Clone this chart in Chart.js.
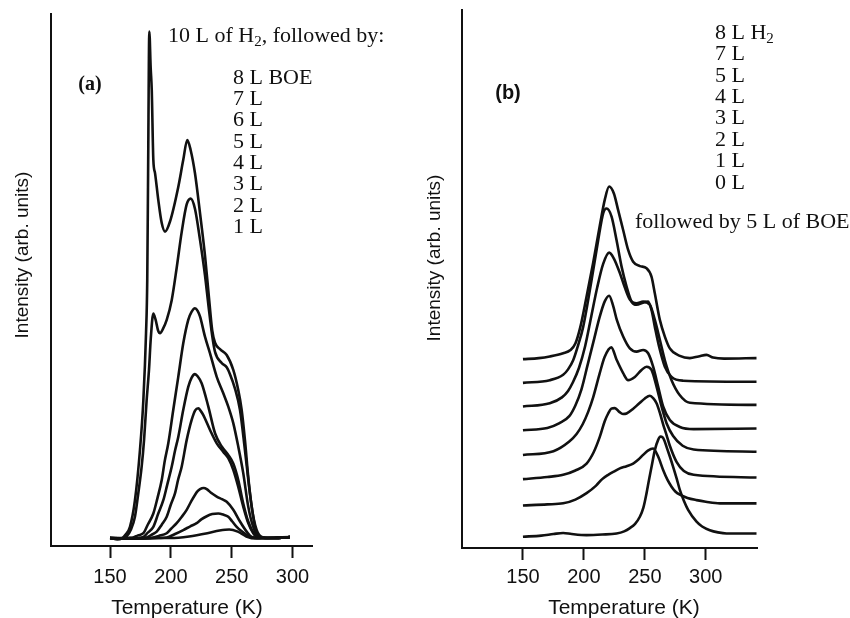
<!DOCTYPE html>
<html>
<head>
<meta charset="utf-8">
<title>H2 / BOE desorption spectra</title>
<script src="https://cdn.jsdelivr.net/npm/chart.js@4.4.0/dist/chart.umd.min.js"></script>
<style>
  html, body { margin: 0; padding: 0; background: #fff; }
  #wrap { position: relative; width: 850px; height: 618px; }
  canvas { position: absolute; top: 0; }
  #chartA { left: 0; }
  #chartB { left: 420px; }
</style>
</head>
<body>
<div id="wrap">
  <canvas id="chartA" width="420" height="618"></canvas>
  <canvas id="chartB" width="430" height="618"></canvas>
</div>
<script>
const tempTicks = [150, 200, 250, 300];

// (a) 10 L of H2, then increasing BOE doses. points are [T (K), intensity]
const dosesA = ['8 L BOE', '7 L', '6 L', '5 L', '4 L', '3 L', '2 L', '1 L'];
const a8 = [[150,1.5],[156,1.3],[160,1.5],[163,2.2],[166.4,3.6],[170.5,8.6],[174.6,18],[177.4,27.4],[179.6,40],[180.6,50],[181.3,70],[182.3,96.7],[183.4,90],[184.3,85.7],[185.6,72.6],[187,70.1],[189.7,65],[192.5,60.7],[195.2,59.1],[199.3,61],[206.1,67.5],[210.2,72.6],[213.5,76.3],[216.3,74.4],[219.8,70.1],[224,62.5],[228.1,54.5],[231,47.5],[234,40.5],[236.3,38.2],[240.4,37],[245.9,35.9],[251.3,33.1],[255.4,29.3],[258.2,25.6],[260.9,19.9],[263.6,13],[266.4,7.4],[270.5,3],[276,1.6],[285,1.5],[297.9,1.7]];
const a7 = [[150,1.5],[156,1.3],[160,1.4],[163.7,1.8],[167,3],[170.5,5.5],[173,9.5],[176,14.9],[178,20],[180.1,27.4],[182,33],[183.5,39],[185.6,43.7],[187.5,42.5],[189.5,40.5],[191.1,40],[193.5,40.8],[196.6,42.5],[200.7,46.2],[204.8,52.3],[208.9,59],[213,64.2],[216.3,65.3],[219.8,63.4],[224,57.5],[228.1,50.8],[231,45],[234,39.5],[236.3,36.5],[241.8,34.4],[245.9,33.6],[248.6,32.3],[252.7,29.6],[256.8,25.6],[260.9,18],[265,9.9],[269.2,3.6],[273.3,1.6],[285,1.5],[297.9,1.7]];
const a6 = [[150,1.5],[160,1.4],[165,1.5],[169.1,1.6],[173,2],[177.4,2.4],[181,4],[185.6,6.1],[189,9],[192.5,12.4],[195,16],[197.9,19.3],[202,25.6],[206.1,31.8],[210.2,38.1],[214.3,42.5],[217,44],[219.8,44.7],[222,44.2],[224,43.1],[228.1,39.3],[232.2,36.2],[237.7,31.8],[243.1,28.7],[247.2,26.2],[251.3,23.1],[255.4,18.7],[259.5,13.7],[263.6,7.4],[267.7,3.6],[273.3,1.6],[285,1.5],[297.9,1.7]];
const a5 = [[150,1.5],[165,1.4],[177.4,1.7],[181,2.5],[185.6,3.6],[189.5,6],[193.8,8.6],[197,11.5],[200.7,14.9],[203.5,18],[206.1,20.5],[210.2,25.6],[214.3,29.9],[217,31.6],[219.8,32.3],[222,31.9],[225.3,30.6],[230.8,26.2],[236.3,21.2],[241.8,18.7],[247.2,17.1],[251.3,15.5],[255.4,12.4],[259.5,8],[263.6,4.6],[269.2,2.1],[273.3,1.6],[285,1.5],[297.9,1.7]];
const a4 = [[150,1.5],[170,1.4],[180.1,1.6],[184,2.1],[188.4,2.7],[192.5,4],[196.6,5.5],[200,7.8],[203.4,9.9],[206,12.5],[208.9,14.9],[213,19.9],[217.1,23.7],[220,25.5],[222.6,25.9],[224.5,25.4],[226.7,24.6],[232.2,21.8],[237.7,19.3],[243.1,17.7],[247.2,16.5],[251.3,14.3],[255.4,11.1],[259.5,7.4],[263.6,4.3],[267.7,2.4],[271.9,1.6],[285,1.5],[297.9,1.7]];
const a3 = [[150,1.5],[175,1.4],[183,1.5],[190,1.9],[196.6,2.4],[200,3.2],[204.8,4.3],[209,5.5],[213,6.8],[216.5,8.3],[219.8,9.6],[222,10.3],[224,10.7],[227,10.9],[229.5,10.7],[233,10],[237.7,9.3],[242,8.8],[245.9,8.3],[251.3,6.8],[256.8,4.6],[262.3,2.7],[266.4,1.7],[272,1.5],[285,1.5],[297.9,1.7]];
const a2 = [[150,1.5],[180,1.4],[190,1.5],[196.6,1.6],[203,2.2],[210.2,3],[216,3.7],[221.2,4.3],[225,5],[229.5,5.6],[234,6],[239,6.1],[243,5.9],[247.2,5.5],[250.5,4.6],[254.1,3.6],[258,2.8],[262.3,2.1],[267.7,1.6],[275,1.5],[285,1.5],[297.9,1.7]];
const a1 = [[150,1.5],[200,1.5],[215,1.8],[230,2.4],[240,2.9],[248,3.1],[255,2.7],[262,1.8],[270,1.4],[280,1.5],[297.9,1.7]];

// (b) H2 dose first, followed by 5 L of BOE; traces are stacked
const dosesB = ['8 L H\u2082', '7 L', '5 L', '4 L', '3 L', '2 L', '1 L', '0 L'];
const b8 = [[150,35.1],[163,35.3],[172,35.6],[183,36.2],[189,36.8],[193,38],[197,41],[202,46.5],[207.6,53],[213.1,60],[217.2,64.8],[220.7,67.2],[224.6,65.9],[228.1,62.8],[232.2,59.1],[236.3,55.4],[240.4,53.2],[245.9,52.4],[251.4,52],[255.5,50.4],[258.2,47.3],[262.3,42.4],[266.4,39.3],[270.5,37.1],[278.7,35.7],[286.9,35.3],[294,35.6],[300.6,35.9],[306,35.4],[315,35.2],[341.6,35.3]];
const b7 = [[150,30.7],[172,31.2],[183,32.2],[187,33.2],[191.2,34.9],[195,37.5],[199.4,41.1],[206.3,49.8],[211.7,57.2],[215.8,62.2],[218.6,63.1],[222.7,61.6],[226.8,57.2],[230.9,52.3],[235,48.6],[239.1,45.8],[243.2,45.2],[248.6,45.6],[252.7,45.8],[255.5,44.2],[258.2,41.1],[261.7,37.4],[266.4,33.7],[271.9,31.8],[281.4,31.1],[341.6,30.9]];
const b5 = [[150,26.3],[172,26.9],[182,28],[187,29.2],[191,30.8],[196,33.5],[201,37.5],[206,43],[211,48.5],[215.8,52.8],[220.7,54.9],[224.6,53.8],[229.5,51.1],[233.6,48.4],[237.7,46.2],[243.2,45.5],[248.6,45.8],[254.1,45.2],[258.2,42.4],[262.3,38.7],[266.4,34.9],[271.9,31.2],[278.7,28.4],[286.9,27],[341.6,26.6]];
const b4 = [[150,21.9],[170,22.3],[180,23.2],[188,24.5],[193,26.5],[198,29.5],[203,34],[208,38.5],[213,43],[217,45.8],[220.7,46.9],[224,45],[227,42.4],[232.2,39.3],[237.7,37.1],[243.2,36.5],[248.6,36.8],[252.7,36.2],[256.8,33.7],[260.9,30],[265,26.3],[270.5,23.8],[278.7,22.5],[290,22.1],[341.6,22.2]];
const b3 = [[150,17.3],[175,18],[188,19.8],[194,21.2],[199,23],[203.5,25.3],[207.6,28],[213,32.5],[217,35.5],[222.5,37.3],[226.8,35],[232.2,32.5],[236.3,31.2],[241.8,31.8],[247.3,33.1],[251.4,33.7],[255.5,33.1],[259.6,30],[263.7,26.3],[267.8,23.2],[273.2,20.8],[281,19],[290,18.3],[341.6,17.9]];
const b2 = [[150,12.8],[170,13.2],[183,13.6],[193,14.4],[202.2,15.7],[208,17.8],[213.1,20.7],[217,23.5],[219.9,25],[222.5,25.9],[225.4,26],[229,25.3],[232,24.9],[235,25],[240,25.8],[245,26.8],[250,27.8],[254.1,28.3],[257,27.8],[259.6,26.9],[262.5,25],[265,23],[267.8,21],[270.5,19],[276,16],[282,14.3],[290,13.6],[341.6,13.1]];
const b1 = [[150,7.9],[170,8.1],[183,8.3],[193,9],[202.2,10.2],[210,11.6],[215,12.8],[219.9,13.6],[224.5,14.2],[229.5,14.8],[235,15.2],[240.4,15.7],[244.5,16.4],[248.6,17.3],[252.5,18.1],[256.8,18.5],[260.9,17],[265,14.5],[268.5,12.7],[271.9,11.4],[275,10.5],[278.7,9.9],[285,9.3],[292.4,8.9],[300,8.6],[311.5,8.3],[341.6,8.3]];
const b0 = [[150,2.1],[165,2.3],[175,2.6],[183,2.8],[190,2.6],[202.2,2.4],[215,2.5],[226.8,2.7],[233,3.1],[237.7,3.7],[242,4.5],[245.9,5.8],[248.8,7.5],[251.4,10.2],[253.5,12.8],[255.5,15.1],[258.2,18.2],[260.9,20.1],[262.8,20.7],[264.5,20.6],[266,20],[267.8,18.8],[270.5,17],[273.2,15.1],[276,13],[278.7,10.8],[282,8.8],[285.5,7.1],[292.4,4.9],[297,4],[303.3,3.3],[310,2.9],[317,2.7],[341.6,2.7]];

const INK = '#111';
const SERIF = '"Liberation Serif", "Times New Roman", serif';
const SANS = '"Liberation Sans", Arial, sans-serif';

// writes a string, dropping any "₂" down as a subscript 2
function richText(ctx, str, x, y, size, family, weight) {
  const parts = str.split('\u2082');
  let cx = x;
  parts.forEach((p, i) => {
    ctx.font = weight + ' ' + size + 'px ' + family;
    ctx.fillText(p, cx, y);
    cx += ctx.measureText(p).width;
    if (i < parts.length - 1) {
      ctx.font = weight + ' ' + Math.round(size * 0.68) + 'px ' + family;
      ctx.fillText('2', cx, y + size * 0.28);
      cx += ctx.measureText('2').width;
    }
  });
}

function panelText(items) {
  return {
    id: 'panelText',
    afterDraw(chart) {
      const ctx = chart.ctx;
      ctx.save();
      ctx.fillStyle = INK;
      ctx.textBaseline = 'middle';
      items.forEach(it => {
        ctx.save();
        ctx.translate(it.x, it.y);
        if (it.rotate) ctx.rotate(-Math.PI / 2);
        ctx.font = (it.weight || 'normal') + ' ' + it.size + 'px ' + it.family;
        let x0 = 0;
        if (it.align === 'center') x0 = -ctx.measureText(it.text).width / 2;
        richText(ctx, it.text, x0, 0, it.size, it.family, it.weight || 'normal');
        ctx.restore();
      });
      ctx.restore();
    }
  };
}

function makePanel(id, curves, xRange, pad, yWidth, xHeight, labelPad, items) {
  return new Chart(document.getElementById(id), {
    type: 'line',
    data: {
      datasets: curves.map(c => ({
        data: c.map(p => ({ x: p[0], y: p[1] })),
        borderColor: INK,
        borderWidth: 2.6,
        pointRadius: 0,
        fill: false,
        cubicInterpolationMode: 'monotone'
      }))
    },
    options: {
      responsive: false,
      animation: false,
      events: [],
      layout: { padding: pad },
      plugins: { legend: { display: false }, tooltip: { enabled: false } },
      scales: {
        x: {
          type: 'linear',
          min: xRange[0],
          max: xRange[1],
          afterBuildTicks: s => { s.ticks = tempTicks.map(v => ({ value: v })); },
          afterFit: s => { s.height = xHeight; },
          grid: { display: true, drawOnChartArea: false, drawTicks: true, tickLength: 12, tickWidth: 2, tickColor: INK },
          border: { display: true, color: INK, width: 2 },
          ticks: { color: INK, padding: labelPad, maxRotation: 0, font: { family: SANS, size: 20 } }
        },
        y: {
          min: 0,
          max: 100,
          afterFit: s => { s.width = yWidth; },
          ticks: { display: false },
          grid: { display: false },
          border: { display: true, color: INK, width: 2 }
        }
      }
    },
    plugins: [panelText(items)]
  });
}

const textA = [
  { text: 'Intensity (arb. units)', x: 23, y: 255, size: 19, family: SANS, align: 'center', rotate: true },
  { text: 'Temperature (K)', x: 187, y: 608, size: 21, family: SANS, align: 'center' },
  { text: '(a)', x: 90, y: 85, size: 20, family: SERIF, weight: 'bold', align: 'center' },
  { text: '10 L of H\u2082, followed by:', x: 168, y: 36, size: 22, family: SERIF }
].concat(dosesA.map((d, i) => ({ text: d, x: 233, y: 78 + 21.3 * i, size: 22, family: SERIF })));

const textB = [
  { text: 'Intensity (arb. units)', x: 15, y: 258, size: 19, family: SANS, align: 'center', rotate: true },
  { text: 'Temperature (K)', x: 204, y: 608, size: 21, family: SANS, align: 'center' },
  { text: '(b)', x: 88, y: 93, size: 20, family: SANS, weight: 'bold', align: 'center' },
  { text: 'followed by 5 L of BOE', x: 215, y: 222, size: 22, family: SERIF }
].concat(dosesB.map((d, i) => ({ text: d, x: 295, y: 33 + 21.4 * i, size: 22, family: SERIF })));

makePanel('chartA', [a8, a7, a6, a5, a4, a3, a2, a1], [101.5, 316],
  { top: 14, right: 108, left: 0, bottom: 0 }, 51, 72, 7, textA);
makePanel('chartB', [b8, b7, b5, b4, b3, b2, b1, b0], [100, 342],
  { top: 10, right: 93, left: 0, bottom: 0 }, 42, 70, 5, textB);
</script>
</body>
</html>
